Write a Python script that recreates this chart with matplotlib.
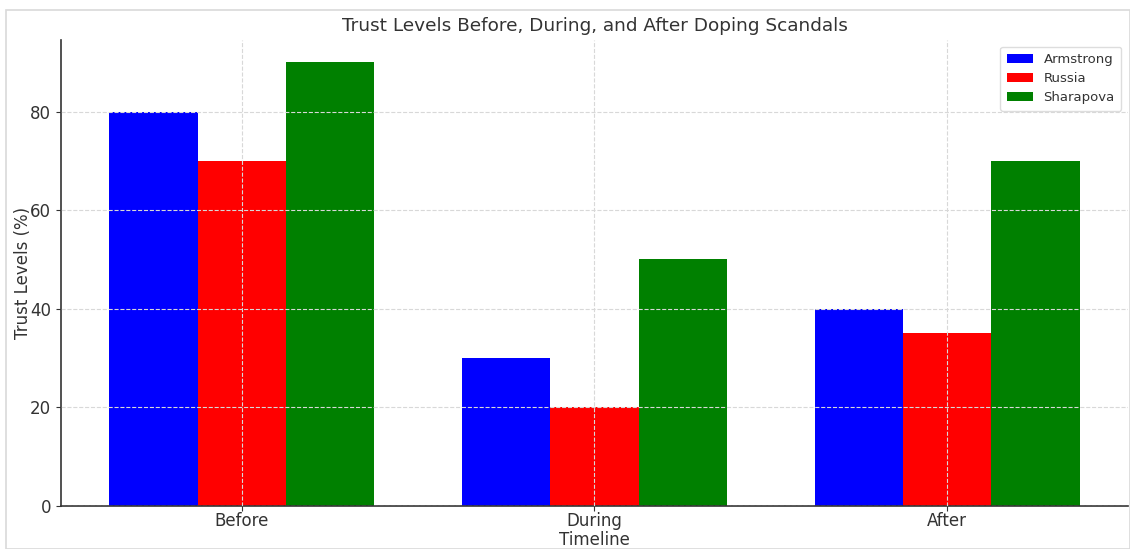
import matplotlib
matplotlib.use('Agg')
import matplotlib.pyplot as plt
import numpy as np

# Trust levels (%) by stage of each scandal
stages = ['Before', 'During', 'After']
armstrong = [80, 30, 40]
russia = [70, 20, 35]
sharapova = [90, 50, 70]

series = [('Armstrong', armstrong, 'blue'),
          ('Russia', russia, 'red'),
          ('Sharapova', sharapova, 'green')]

text_color = '#333333'
plt.rcParams['text.color'] = text_color
plt.rcParams['axes.labelcolor'] = text_color
plt.rcParams['xtick.color'] = text_color
plt.rcParams['ytick.color'] = text_color

fig = plt.figure(figsize=(11.3, 5.49), dpi=100)
ax = fig.add_axes([61 / 1130, 43 / 549, (1128 - 61) / 1130, (506 - 40) / 549])

x = np.arange(len(stages))
width = 0.25
for i, (name, vals, color) in enumerate(series):
    ax.bar(x + (i - 1) * width, vals, width, label=name, color=color)

ax.set_xticks(x)
ax.set_xticklabels(stages, fontsize=12)
ax.tick_params(axis='x', pad=0.8)
ax.tick_params(axis='y', labelsize=12)
ax.set_xlabel('Timeline', fontsize=12, labelpad=1)
ax.set_ylabel('Trust Levels (%)', fontsize=12, labelpad=-1.5)
ax.set_title('Trust Levels Before, During, and After Doping Scandals', fontsize=13.3, pad=6.5)
ax.set_yticks([0, 20, 40, 60, 80])

ax.grid(True, linestyle='--', color='#d8d8d8', linewidth=0.8)
ax.set_axisbelow(False)
for side in ['top', 'right']:
    ax.spines[side].set_visible(False)
for side in ['left', 'bottom']:
    ax.spines[side].set_color(text_color)
    ax.spines[side].set_linewidth(1.2)

leg = ax.legend(loc='upper right', fontsize=9.5, framealpha=1.0, borderpad=0.5,
                labelspacing=0.45)
leg.get_frame().set_edgecolor('#dddddd')

# thin frame around the whole figure
fig.add_artist(plt.Rectangle((6 / 1130, 0), 1 - 6 / 1130, 1 - 10 / 549,
                             transform=fig.transFigure, fill=False,
                             edgecolor='#d9d9d9', linewidth=1.2))

fig.savefig('out.png', dpi=100)
